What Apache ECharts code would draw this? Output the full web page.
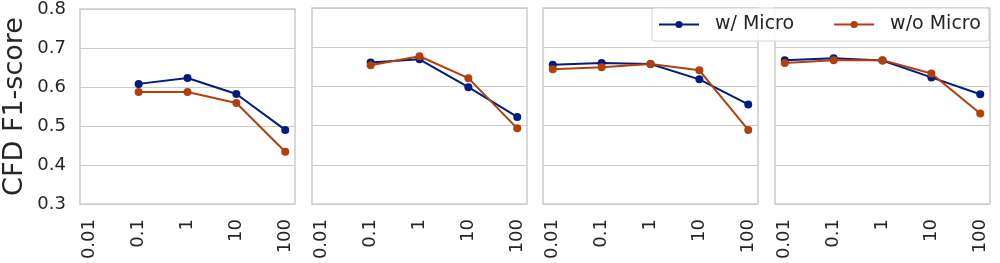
<!DOCTYPE html>
<html>
<head>
<meta charset="utf-8">
<script src="https://cdn.jsdelivr.net/npm/echarts@6/dist/echarts.min.js"></script>
<style>html,body{margin:0;padding:0;background:#fff;}#c{width:1000px;height:263px;}</style>
</head>
<body>
<div id="c"></div>
<script>
const categories = ['0.01', '0.1', '1', '10', '100'];
const yTicks = [0.3, 0.4, 0.5, 0.6, 0.7, 0.8];
const seriesNames = ['w/ Micro', 'w/o Micro'];
// per panel, values aligned with categories (null = missing)
const withMicro1 = [null, 0.608, 0.623, 0.582, 0.490];
const withoutMicro1 = [null, 0.587, 0.587, 0.559, 0.434];
const withMicro2 = [null, 0.661, 0.669, 0.598, 0.522];
const withoutMicro2 = [null, 0.654, 0.677, 0.621, 0.493];
const withMicro3 = [0.655, 0.660, 0.657, 0.618, 0.554];
const withoutMicro3 = [0.644, 0.649, 0.657, 0.641, 0.489];
const withMicro4 = [0.667, 0.672, 0.666, 0.623, 0.580];
const withoutMicro4 = [0.660, 0.667, 0.667, 0.633, 0.531];

const panels = [
  [withMicro1, withoutMicro1],
  [withMicro2, withoutMicro2],
  [withMicro3, withoutMicro3],
  [withMicro4, withoutMicro4]
];
const colors = ['#001c7f', '#b1400d'];
const lefts = [80, 312, 543, 775];
const font = 'DejaVu Sans';
const textColor = '#262626';

const grids = [], xAxes = [], yAxes = [], series = [];
panels.forEach((p, i) => {
  grids.push({left: lefts[i], top: 8, width: 215, height: 196, show: true,
    borderColor: '#cccccc', borderWidth: 1.5, backgroundColor: '#fff'});
  xAxes.push({type: 'value', gridIndex: i, min: -0.2, max: 4.2, interval: 0.2,
    axisLine: {show: false}, axisTick: {show: false}, splitLine: {show: false},
    axisLabel: {rotate: 90, fontSize: 18, fontFamily: font, color: textColor, margin: 15,
      showMinLabel: false, showMaxLabel: false,
      formatter: v => {
        const r = Math.round(v);
        return (Math.abs(v - r) < 1e-6 && r >= 0 && r < categories.length) ? categories[r] : '';
      }}});
  yAxes.push({type: 'value', gridIndex: i, min: yTicks[0], max: yTicks[yTicks.length - 1], interval: 0.1,
    name: i === 0 ? 'CFD F1-score' : '', nameLocation: 'middle', nameGap: 52,
    nameTextStyle: {fontSize: 27, fontFamily: font, color: textColor},
    axisLine: {show: false}, axisTick: {show: false},
    splitLine: {show: true, lineStyle: {color: '#cccccc', width: 1}},
    axisLabel: {show: i === 0, fontSize: 18, fontFamily: font, color: textColor, margin: 14,
      formatter: v => v.toFixed(1)}});
  p.forEach((vals, s) => {
    series.push({type: 'line', name: seriesNames[s], xAxisIndex: i, yAxisIndex: i,
      data: vals.map((v, k) => v === null ? null : [k, v]).filter(d => d !== null),
      symbol: 'circle', symbolSize: 8, showSymbol: true,
      itemStyle: {color: colors[s]}, lineStyle: {color: colors[s], width: 2},
      z: 3 + s, animation: false});
  });
});

const chart = echarts.init(document.getElementById('c'), null, {renderer: 'canvas'});
chart.setOption({
  animation: false,
  backgroundColor: '#fff',
  grid: grids, xAxis: xAxes, yAxis: yAxes, series: series,
  legend: {data: seriesNames, left: 652, top: 8,
    padding: [5, 8, 5, 6], itemWidth: 40, itemHeight: 9, itemGap: 39,
    borderColor: '#d6d6d6', borderWidth: 1, borderRadius: 3,
    backgroundColor: 'rgba(255,255,255,0.85)', z: 10,
    textStyle: {fontSize: 19, lineHeight: 23, fontFamily: font, color: textColor, padding: [0, 0, 0, 11]}}
});
</script>
</body>
</html>
